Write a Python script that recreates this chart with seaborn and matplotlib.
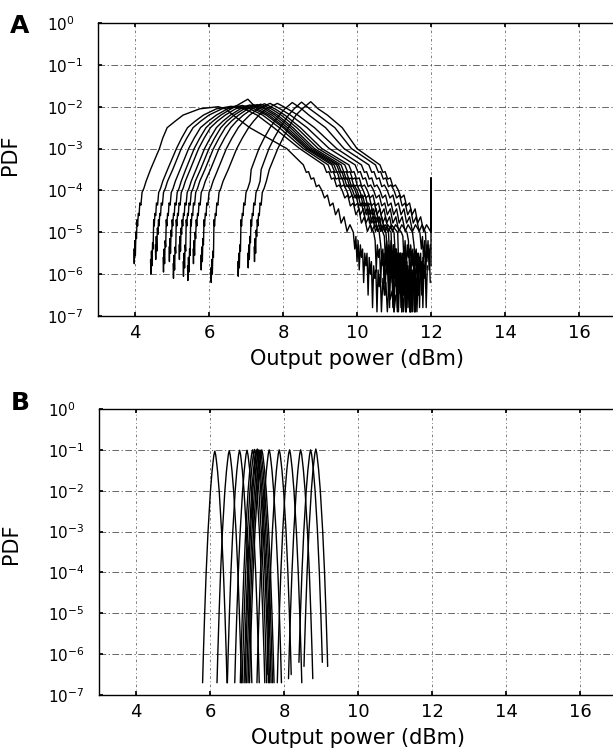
import numpy as np
import pandas as pd
import matplotlib
matplotlib.use("Agg")
import matplotlib.pyplot as plt
import seaborn as sns
from matplotlib.ticker import FixedLocator, NullLocator

# ---------------- panel A : measured PDFs (x in dBm, levels are log10 PDF) ----------------
# left edge of each curve (bottom of the rising tail)
a_start = [3.97, 4.42, 4.55, 4.76, 4.92, 5.03, 5.19, 5.30, 5.42, 5.57, 5.78, 6.05, 6.78, 7.05, 7.22]
# x where the rising side crosses 10^-3.5, -3, -2.75, -2.5, -2.35, -2.2, -2.05
a_rise_35 = [4.42, 4.88, 5.02, 5.22, 5.37, 5.49, 5.65, 5.77, 5.89, 6.04, 6.24, 6.52, 7.14, 7.41, 7.63]
a_rise_3 = [4.66, 5.12, 5.25, 5.45, 5.60, 5.72, 5.88, 6.00, 6.12, 6.27, 6.47, 6.75, 7.35, 7.62, 7.86]
a_rise_275 = [4.75, 5.26, 5.40, 5.60, 5.75, 5.87, 6.03, 6.15, 6.27, 6.42, 6.62, 6.90, 7.49, 7.76, 8.00]
a_rise_25 = [4.87, 5.42, 5.57, 5.77, 5.92, 6.04, 6.20, 6.32, 6.44, 6.59, 6.79, 7.07, 7.65, 7.92, 8.15]
a_rise_235 = [5.08, 5.62, 5.77, 5.97, 6.10, 6.22, 6.37, 6.48, 6.60, 6.74, 6.93, 7.20, 7.77, 8.03, 8.25]
a_rise_22 = [5.30, 5.85, 6.00, 6.20, 6.32, 6.44, 6.58, 6.68, 6.80, 6.93, 7.10, 7.35, 7.90, 8.15, 8.35]
a_rise_205 = [5.75, 6.20, 6.35, 6.50, 6.60, 6.72, 6.85, 6.95, 7.05, 7.17, 7.33, 7.55, 8.05, 8.30, 8.52]
# maximum of each curve
a_peak_x = [6.25, 6.60, 6.75, 6.90, 7.05, 7.10, 7.20, 7.30, 7.40, 7.50, 7.65, 7.85, 8.25, 8.50, 8.75]
a_peak_lg = [-2.00, -1.99, -1.98, -1.97, -1.82, -1.96, -1.95, -1.95, -1.94, -1.93, -1.92, -1.92, -1.90, -1.89, -1.88]
# x where the falling side crosses 10^-2.05, -2.2, -2.5, -3, -4, -5
a_fall_205 = [6.45, 6.95, 7.10, 7.22, 7.30, 7.40, 7.50, 7.58, 7.68, 7.78, 7.92, 8.12, 8.50, 8.72, 8.95]
a_fall_22 = [6.65, 7.30, 7.45, 7.55, 7.62, 7.70, 7.78, 7.85, 7.95, 8.05, 8.20, 8.40, 8.70, 8.95, 9.20]
a_fall_25 = [7.10, 7.75, 7.90, 8.00, 8.05, 8.12, 8.20, 8.27, 8.37, 8.47, 8.65, 8.85, 9.15, 9.40, 9.60]
a_fall_3 = [8.10, 8.45, 8.55, 8.62, 8.67, 8.72, 8.78, 8.85, 8.95, 9.05, 9.25, 9.45, 9.65, 9.85, 10.00]
a_fall_4 = [9.05, 9.60, 9.72, 9.82, 9.88, 9.95, 10.00, 10.07, 10.17, 10.28, 10.45, 10.62, 10.82, 11.00, 11.12]
a_fall_5 = [9.90, 10.45, 10.60, 10.70, 10.78, 10.85, 10.92, 11.00, 11.10, 11.20, 11.35, 11.50, 11.70, 11.85, 12.00]
# right edge of each curve
a_end = [11.05, 11.30, 11.40, 11.45, 11.50, 11.55, 11.60, 11.65, 11.70, 11.80, 11.85, 11.90, 12.00, 12.00, 12.00]
# noisy low tail on the left (offset from a_start, log10 level) and depth shift of its bottom
a_left_dx = [0.00, 0.01, 0.025, 0.04, 0.055, 0.07, 0.085, 0.10, 0.12, 0.14, 0.16, 0.19, 0.22, 0.27, 0.33]
a_left_lg = [-5.40, -5.75, -5.20, -5.55, -5.00, -5.15, -4.70, -4.85, -4.55, -4.60, -4.30, -4.35, -4.05, -3.95, -3.78]
a_left_shift = [0.0, -0.25, 0.1, -0.2, 0.05, -0.35, 0.1, -0.3, -0.4, 0.0, -0.15, -0.45, -0.3, -0.1, 0.05]
# ripple on the falling side around 10^-4 (offset from a_fall_4, log10 level)
a_mid_dx = [-0.50, -0.42, -0.36, -0.29, -0.22, -0.15, -0.08, 0.0, 0.07, 0.15, 0.22, 0.30,
            0.37, 0.45, 0.52, 0.60, 0.68, 0.76]
a_mid_lg = [-3.39, -3.57, -3.55, -3.73, -3.70, -3.91, -3.87, -4.00, -4.18, -4.11, -4.37, -4.30,
            -4.58, -4.44, -4.78, -4.63, -4.98, -4.82]
# noisy low tail on the right (offset from a_fall_5, log10 level)
a_tail_dx = [0.04, 0.07, 0.10, 0.13, 0.16, 0.19, 0.22, 0.25, 0.28, 0.31, 0.34, 0.37, 0.40,
             0.43, 0.46, 0.49, 0.52, 0.55, 0.58, 0.61, 0.64, 0.67, 0.70, 0.73, 0.76, 0.80,
             0.84, 0.88, 0.92, 0.96, 1.00, 1.05, 1.10, 1.15]
a_tail_lg = [-5.4, -5.1, -5.7, -5.2, -5.9, -5.3, -5.6, -5.4, -6.2, -5.5, -5.8, -5.5, -6.5,
             -5.6, -6.0, -5.7, -6.8, -5.8, -6.1, -5.9, -6.9, -5.9, -6.3, -6.0, -6.9, -6.1,
             -6.5, -6.2, -6.9, -6.3, -6.6, -6.4, -6.9, -6.5]
a_tail_phase = [0, 3, 5, 1, 7, 2, 4, 6, 8, 1, 3, 5, 0, 2, 4]
# spike at the 12 dBm cut-off of the last curve
a_spike_lg = [-3.7, -5.8]

# ---------------- panel B : computed PDFs ----------------
b_center = [6.13, 6.52, 6.80, 7.00, 7.15, 7.20, 7.25, 7.28, 7.32, 7.36, 7.40, 7.60, 7.87, 8.15, 8.45, 8.72, 8.86]
b_peak_lg = [-1.03, -1.02, -1.01, -1.01, -1.0, -0.99, -1.0, -0.98, -1.0, -1.01, -1.0, -1.0, -1.0, -1.0, -1.0, -1.0, -0.98]
b_floor_lg = [-6.7, -6.7, -6.7, -6.7, -6.7, -6.7, -6.7, -6.7, -6.7, -6.7, -6.7, -6.7, -6.5, -6.7, -6.6, -6.2, -6.3]
# peak shape read from the first peak: depth below the maximum (decades) vs half width (dB)
b_depth = [0.0, 0.1, 0.25, 0.5, 1.0, 2.0, 3.0, 4.0, 5.0, 6.0]
b_half = [0.0, 0.025, 0.045, 0.075, 0.12, 0.185, 0.235, 0.275, 0.31, 0.34]

y_ticks = [1e0, 1e-1, 1e-2, 1e-3, 1e-4, 1e-5, 1e-6, 1e-7]
y_ticklabels = [r"$10^{0}$", r"$10^{-1}$", r"$10^{-2}$", r"$10^{-3}$",
                r"$10^{-4}$", r"$10^{-5}$", r"$10^{-6}$", r"$10^{-7}$"]
x_ticks = [4, 6, 8, 10, 12, 14, 16]


def build_panel_a():
    rows = []
    for i in range(len(a_start)):
        xs, lg = [], []
        for k, (dx, v) in enumerate(zip(a_left_dx, a_left_lg)):
            if a_start[i] + dx >= a_rise_35[i]:
                break
            xs.append(a_start[i] + dx)
            lg.append(v + (a_left_shift[i] if k < 6 else 0.0))
        xs += [a_rise_35[i], a_rise_3[i], a_rise_275[i], a_rise_25[i], a_rise_235[i],
               a_rise_22[i], a_rise_205[i], a_peak_x[i],
               a_fall_205[i], a_fall_22[i], a_fall_25[i], a_fall_3[i]]
        lg += [-3.5, -3.0, -2.75, -2.5, -2.35, -2.2, -2.05, a_peak_lg[i], -2.05, -2.2, -2.5, -3.0]
        for dx, v in zip(a_mid_dx, a_mid_lg):
            xs.append(a_fall_4[i] + dx)
            lg.append(v)
        xs.append(a_fall_5[i])
        lg.append(-5.0)
        n = len(a_tail_lg)
        for k, dx in enumerate(a_tail_dx):
            if a_fall_5[i] + dx > a_end[i]:
                break
            xs.append(a_fall_5[i] + dx)
            lg.append(a_tail_lg[(k + a_tail_phase[i]) % n])
        if i == len(a_start) - 1:
            xs += [12.0, 12.0]
            lg += a_spike_lg
        for x, v in zip(xs, lg):
            rows.append({"curve": i, "x": x, "pdf": 10 ** v})
    return pd.DataFrame(rows)


def build_panel_b():
    rows = []
    depth = np.array(b_depth)
    half = np.array(b_half)
    for i, c in enumerate(b_center):
        d_max = b_peak_lg[i] - b_floor_lg[i]
        keep = depth < d_max
        d = np.append(depth[keep], d_max)
        w = np.append(half[keep], np.interp(d_max, depth, half))
        xs = np.concatenate([c - w[::-1], c + w[1:]])
        lg = np.concatenate([b_peak_lg[i] - d[::-1], b_peak_lg[i] - d[1:]])
        for x, v in zip(xs, lg):
            rows.append({"curve": i, "x": x, "pdf": 10 ** v})
    return pd.DataFrame(rows)


sns.set_theme(style="white")
plt.rcParams["font.family"] = ["DejaVu Sans"]
plt.rcParams["mathtext.fontset"] = "dejavusans"
for key in ["text.color", "axes.labelcolor", "xtick.color", "ytick.color"]:
    plt.rcParams[key] = "black"

W, H = 613, 750
fig = plt.figure(figsize=(W / 100, H / 100), dpi=100)
ax_a = fig.add_axes([98 / W, 1 - 316 / H, 518 / W, 293 / H])
ax_b = fig.add_axes([99 / W, 1 - 695 / H, 518 / W, 286 / H])

for ax, df, ylab_y in [(ax_a, build_panel_a(), 0.55), (ax_b, build_panel_b(), 0.53)]:
    sns.lineplot(data=df, x="x", y="pdf", units="curve", estimator=None, sort=False,
                 color="black", linewidth=1.0, ax=ax)
    ax.set_yscale("log")
    ax.set_xlim(3.0, 17.0)
    ax.set_ylim(1e-7, 1e0)
    ax.yaxis.set_major_locator(FixedLocator(y_ticks))
    ax.yaxis.set_minor_locator(NullLocator())
    ax.set_yticklabels(y_ticklabels, fontsize=11)
    for t in ax.get_yticklabels():
        t.set_horizontalalignment("left")
    ax.set_xticks(x_ticks)
    ax.set_xticklabels([str(v) for v in x_ticks], fontsize=13)
    ax.tick_params(axis="y", direction="in", length=3, pad=37, left=True)
    ax.tick_params(axis="x", direction="in", length=3, pad=6, bottom=True, top=True)
    ax.xaxis.grid(True, color="0.4", linewidth=0.6, linestyle=(0, (3, 3, 1, 3)))
    ax.yaxis.grid(True, color="0.3", linewidth=0.6, linestyle=(0, (8, 3, 1.5, 3)))
    for s in ax.spines.values():
        s.set_color("black")
        s.set_linewidth(1.0)
    ax.set_xlabel("Output power (dBm)", fontsize=15, labelpad=5)
    ax.set_ylabel("PDF", fontsize=15)
    ax.yaxis.set_label_coords(-0.15, ylab_y)

fig.text(10 / W, 1 - 14 / H, "A", fontsize=18, fontweight="bold", va="top", ha="left")
fig.text(11 / W, 1 - 391 / H, "B", fontsize=18, fontweight="bold", va="top", ha="left")

fig.savefig("out.png", dpi=100)
